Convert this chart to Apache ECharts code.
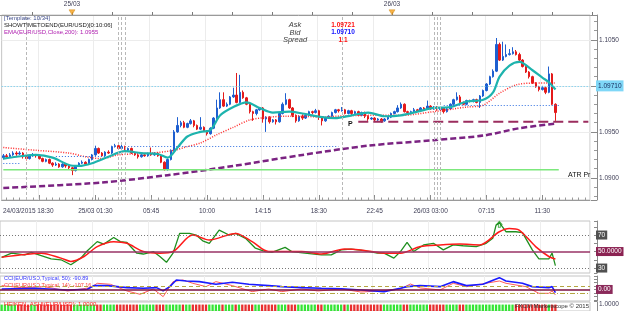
<!DOCTYPE html>
<html lang="en">
<head>
<meta charset="UTF-8">
<title>EUR/USD m15</title>
<script src="https://cdn.jsdelivr.net/npm/echarts@6.0.0/dist/echarts.min.js"></script>
<style>
    html, body { margin: 0; padding: 0; background: #fff; }
    #main { width: 625px; height: 311px; }
</style>
</head>
<body>
<div id="main"></div>
<script>
    // 15 minute slots from the left edge of the chart
    var startTime = Date.UTC(2015, 2, 24, 18, 30);
    var slotCount = 179;

    var labelIdx = [0, 28, 45, 62, 79, 96, 113, 130, 147, 164];
    var labelText = ['24/03/2015 18:30', '25/03 01:30', '05:45', '10:00', '14:15', '18:30', '22:45', '26/03 03:00', '07:15', '11:30'];
    var majorTickIdx = [11, 28, 45, 62, 79, 96, 113, 130, 147, 164];
    var sessionLines = [7, 35, 36, 37, 103, 131, 132, 133];

    // [open, close, low, high]
    var candles = [
        [1.0922, 1.0924, 1.0920, 1.0926], [1.0924, 1.0923, 1.0921, 1.0926], [1.0923, 1.0925, 1.0922, 1.0927], [1.0925, 1.0927, 1.0924, 1.0929],
        [1.0927, 1.0926, 1.0924, 1.0929], [1.0926, 1.0927, 1.0925, 1.0929], [1.0927, 1.0923, 1.0921, 1.0928], [1.0923, 1.0921, 1.0919, 1.0924],
        [1.0921, 1.0924, 1.0920, 1.0925], [1.0924, 1.0925, 1.0923, 1.0927], [1.0925, 1.0924, 1.0922, 1.0926], [1.0924, 1.0921, 1.0920, 1.0925],
        [1.0921, 1.0918, 1.0917, 1.0922], [1.0918, 1.0920, 1.0917, 1.0921], [1.0920, 1.0916, 1.0915, 1.0921], [1.0916, 1.0914, 1.0912, 1.0917],
        [1.0914, 1.0915, 1.0913, 1.0917], [1.0915, 1.0912, 1.0911, 1.0916], [1.0912, 1.0915, 1.0911, 1.0916], [1.0915, 1.0913, 1.0911, 1.0916],
        [1.0913, 1.0911, 1.0909, 1.0914], [1.0911, 1.0908, 1.0903, 1.0912], [1.0908, 1.0913, 1.0907, 1.0914], [1.0913, 1.0916, 1.0912, 1.0917],
        [1.0916, 1.0917, 1.0915, 1.0919], [1.0917, 1.0915, 1.0913, 1.0918], [1.0915, 1.0920, 1.0914, 1.0921], [1.0920, 1.0925, 1.0919, 1.0926],
        [1.0925, 1.0932, 1.0924, 1.0935], [1.0932, 1.0927, 1.0926, 1.0933], [1.0927, 1.0924, 1.0923, 1.0928], [1.0924, 1.0928, 1.0923, 1.0929],
        [1.0928, 1.0927, 1.0926, 1.0930], [1.0927, 1.0934, 1.0926, 1.0935], [1.0934, 1.0935, 1.0933, 1.0937], [1.0935, 1.0932, 1.0931, 1.0937],
        [1.0932, 1.0934, 1.0931, 1.0936], [1.0934, 1.0930, 1.0929, 1.0935], [1.0930, 1.0932, 1.0929, 1.0933], [1.0932, 1.0927, 1.0926, 1.0933],
        [1.0927, 1.0925, 1.0924, 1.0928], [1.0925, 1.0923, 1.0921, 1.0926], [1.0923, 1.0925, 1.0922, 1.0926], [1.0925, 1.0924, 1.0923, 1.0926],
        [1.0924, 1.0926, 1.0923, 1.0927], [1.0926, 1.0925, 1.0924, 1.0933], [1.0925, 1.0927, 1.0924, 1.0928], [1.0927, 1.0924, 1.0923, 1.0928],
        [1.0924, 1.0917, 1.0916, 1.0925], [1.0917, 1.0909, 1.0908, 1.0918], [1.0909, 1.0920, 1.0908, 1.0921], [1.0920, 1.0930, 1.0919, 1.0931],
        [1.0930, 1.0950, 1.0929, 1.0952], [1.0950, 1.0957, 1.0949, 1.0966], [1.0957, 1.0960, 1.0955, 1.0962], [1.0960, 1.0955, 1.0954, 1.0962],
        [1.0955, 1.0959, 1.0954, 1.0960], [1.0959, 1.0962, 1.0958, 1.0964], [1.0962, 1.0957, 1.0955, 1.0963], [1.0957, 1.0953, 1.0952, 1.0958],
        [1.0953, 1.0955, 1.0952, 1.0966], [1.0955, 1.0951, 1.0950, 1.0956], [1.0951, 1.0948, 1.0946, 1.0952], [1.0948, 1.0954, 1.0947, 1.0955],
        [1.0954, 1.0965, 1.0953, 1.0966], [1.0965, 1.0976, 1.0964, 1.0985], [1.0976, 1.0985, 1.0975, 1.0993], [1.0985, 1.0978, 1.0977, 1.0993],
        [1.0978, 1.0980, 1.0977, 1.0982], [1.0980, 1.0988, 1.0979, 1.0989], [1.0988, 1.0990, 1.0987, 1.0998], [1.0990, 1.0982, 1.0981, 1.1014],
        [1.0982, 1.0993, 1.0981, 1.1012], [1.0993, 1.0987, 1.0986, 1.0995], [1.0987, 1.0980, 1.0979, 1.0988], [1.0980, 1.0972, 1.0970, 1.0981],
        [1.0972, 1.0970, 1.0962, 1.0973], [1.0970, 1.0974, 1.0968, 1.0975], [1.0974, 1.0976, 1.0973, 1.0977], [1.0976, 1.0964, 1.0960, 1.0977],
        [1.0964, 1.0966, 1.0950, 1.0967], [1.0966, 1.0961, 1.0959, 1.0967], [1.0961, 1.0963, 1.0960, 1.0964], [1.0963, 1.0961, 1.0958, 1.0964],
        [1.0961, 1.0970, 1.0960, 1.0971], [1.0970, 1.0980, 1.0969, 1.0982], [1.0980, 1.0985, 1.0979, 1.0992], [1.0985, 1.0976, 1.0975, 1.0986],
        [1.0976, 1.0968, 1.0966, 1.0977], [1.0968, 1.0962, 1.0960, 1.0969], [1.0962, 1.0967, 1.0961, 1.0968], [1.0967, 1.0965, 1.0963, 1.0969],
        [1.0965, 1.0968, 1.0964, 1.0969], [1.0968, 1.0972, 1.0967, 1.0973], [1.0972, 1.0971, 1.0969, 1.0973], [1.0971, 1.0973, 1.0970, 1.0975],
        [1.0973, 1.0966, 1.0963, 1.0974], [1.0966, 1.0962, 1.0957, 1.0967], [1.0962, 1.0965, 1.0961, 1.0966], [1.0965, 1.0967, 1.0964, 1.0968],
        [1.0967, 1.0971, 1.0966, 1.0972], [1.0971, 1.0974, 1.0970, 1.0975], [1.0974, 1.0973, 1.0971, 1.0975], [1.0973, 1.0974, 1.0972, 1.0977],
        [1.0974, 1.0970, 1.0969, 1.0975], [1.0970, 1.0973, 1.0969, 1.0974], [1.0973, 1.0970, 1.0968, 1.0974], [1.0970, 1.0972, 1.0969, 1.0973],
        [1.0972, 1.0968, 1.0967, 1.0973], [1.0968, 1.0971, 1.0967, 1.0972], [1.0971, 1.0967, 1.0965, 1.0972], [1.0967, 1.0964, 1.0962, 1.0968],
        [1.0964, 1.0965, 1.0963, 1.0966], [1.0965, 1.0963, 1.0961, 1.0966], [1.0963, 1.0964, 1.0962, 1.0965], [1.0964, 1.0962, 1.0960, 1.0965],
        [1.0962, 1.0964, 1.0961, 1.0965], [1.0964, 1.0966, 1.0963, 1.0967], [1.0966, 1.0970, 1.0965, 1.0971], [1.0970, 1.0972, 1.0969, 1.0973],
        [1.0972, 1.0976, 1.0971, 1.0979], [1.0976, 1.0980, 1.0975, 1.0982], [1.0980, 1.0972, 1.0971, 1.0981], [1.0972, 1.0971, 1.0969, 1.0973],
        [1.0971, 1.0972, 1.0970, 1.0973], [1.0972, 1.0974, 1.0971, 1.0976], [1.0974, 1.0973, 1.0972, 1.0975], [1.0973, 1.0976, 1.0972, 1.0977],
        [1.0976, 1.0975, 1.0974, 1.0977], [1.0975, 1.0978, 1.0974, 1.0984], [1.0978, 1.0975, 1.0974, 1.0979], [1.0975, 1.0977, 1.0974, 1.0978],
        [1.0977, 1.0974, 1.0973, 1.0978], [1.0974, 1.0976, 1.0973, 1.0977], [1.0976, 1.0972, 1.0970, 1.0977], [1.0972, 1.0975, 1.0971, 1.0976],
        [1.0975, 1.0980, 1.0974, 1.0981], [1.0980, 1.0985, 1.0979, 1.0986], [1.0985, 1.0988, 1.0984, 1.0993], [1.0988, 1.0982, 1.0981, 1.0990],
        [1.0982, 1.0980, 1.0979, 1.0983], [1.0980, 1.0984, 1.0979, 1.0985], [1.0984, 1.0983, 1.0982, 1.0985], [1.0983, 1.0985, 1.0982, 1.0986],
        [1.0985, 1.0982, 1.0981, 1.0986], [1.0982, 1.0989, 1.0976, 1.0990], [1.0989, 1.0995, 1.0988, 1.0996], [1.0995, 1.1002, 1.0994, 1.1003],
        [1.1002, 1.1010, 1.1001, 1.1011], [1.1010, 1.1016, 1.1009, 1.1018], [1.1016, 1.1045, 1.1015, 1.1052], [1.1045, 1.1028, 1.1027, 1.1047],
        [1.1028, 1.1032, 1.1027, 1.1048], [1.1032, 1.1034, 1.1031, 1.1045], [1.1034, 1.1035, 1.1033, 1.1040], [1.1035, 1.1037, 1.1034, 1.1042],
        [1.1037, 1.1034, 1.1033, 1.1039], [1.1034, 1.1028, 1.1027, 1.1036], [1.1028, 1.1021, 1.1020, 1.1029], [1.1021, 1.1015, 1.1014, 1.1022],
        [1.1015, 1.1010, 1.1008, 1.1016], [1.1010, 1.1003, 1.1002, 1.1011], [1.1003, 1.0999, 1.0998, 1.1004], [1.0999, 1.0996, 1.0994, 1.1000],
        [1.0996, 1.0998, 1.0995, 1.1000], [1.0998, 1.0993, 1.0991, 1.0999], [1.0993, 1.1013, 1.0992, 1.1021], [1.1013, 1.0980, 1.0979, 1.1014],
        [1.0980, 1.0971, 1.0962, 1.0981]
    ];

    // overlays, [slot, value]
    var emaFast = [[0, 1.0921], [4, 1.0923], [10, 1.0925], [15, 1.0922], [20, 1.0914], [23, 1.0913], [27, 1.0916], [32, 1.0923],
        [37, 1.0929], [42, 1.0927], [47, 1.0926], [50, 1.0922], [53, 1.0933], [56, 1.0945], [60, 1.0950], [63, 1.0952],
        [66, 1.0968], [70, 1.0977], [74, 1.0982], [78, 1.0976], [82, 1.0971], [87, 1.0972], [91, 1.0970], [97, 1.0966],
        [101, 1.0965], [106, 1.0968], [111, 1.0971], [116, 1.0967], [121, 1.0968], [126, 1.0972], [131, 1.0976], [136, 1.0977],
        [141, 1.0983], [146, 1.0985], [149, 1.0993], [151, 1.1010], [154, 1.1022], [157, 1.1026], [161, 1.1017], [164, 1.1009],
        [166, 1.1004], [168, 1.0996]];
    var emaSlow = [[0, 1.0933], [10, 1.0930], [20, 1.0927], [25, 1.0923], [30, 1.0921], [35, 1.0925], [45, 1.0927], [52, 1.0930],
        [56, 1.0934], [60, 1.0938], [65, 1.0947], [70, 1.0955], [75, 1.0963], [81, 1.0966], [86, 1.0967], [91, 1.0967],
        [97, 1.0966], [101, 1.0967], [111, 1.0968], [121, 1.0968], [131, 1.0972], [141, 1.0977], [146, 1.0979], [151, 1.0992],
        [156, 1.1001], [161, 1.1003], [168, 1.1003]];
    var ema200 = [[0, 1.0889], [30, 1.0895], [50, 1.0903], [70, 1.0913], [91, 1.0925], [111, 1.0935], [131, 1.0941],
        [146, 1.0946], [157, 1.0954], [168, 1.0959]];

    var atrLine = [[0, 1.0909], [169, 1.0909]];
    var pivotLine = [[108, 1.0961], [178, 1.0961]];
    var bidPrice = 1.0971;
    // [from slot, to slot, level]
    var blueLevels = [[0, 5, 1.0916], [16, 31, 1.0924], [38, 102, 1.0934], [134, 169, 1.0979]];

    var rsiMain = [[0, 43], [3, 48], [7, 46], [9, 49], [12, 45], [15, 41], [18, 40], [21, 34], [24, 42], [26, 51], [29, 62],
        [31, 59], [34, 67], [36, 62], [38, 61], [41, 48], [43, 47], [46, 50], [48, 44], [50, 37], [52, 48], [54, 72], [57, 72],
        [59, 70], [61, 63], [63, 60], [66, 76], [69, 70], [71, 72], [74, 66], [77, 54], [80, 50], [82, 49], [86, 55], [88, 50],
        [92, 48], [97, 46], [100, 46], [103, 52], [106, 53], [110, 51], [114, 48], [116, 48], [119, 42], [121, 50], [123, 61],
        [125, 50], [128, 58], [131, 60], [134, 52], [137, 58], [140, 57], [144, 56], [147, 60], [149, 66], [150, 82], [151, 85],
        [153, 74], [156, 74], [158, 73], [161, 52], [163, 41], [166, 41], [167, 48], [168, 33]];
    var rsiSignal = [[0, 43], [6, 46], [12, 48], [18, 42], [21, 38], [25, 44], [29, 56], [34, 62], [38, 60], [43, 50], [48, 48],
        [52, 50], [58, 70], [63, 64], [71, 72], [76, 62], [81, 50], [91, 50], [97, 47], [104, 53], [109, 52], [116, 48], [121, 48],
        [127, 56], [133, 58], [139, 59], [145, 58], [151, 74], [154, 78], [157, 76], [162, 56], [166, 44], [168, 41]];
    var rsiLevels = [70, 50, 30];
    var signalArrow = [[151, 83]];

    var cci50 = [[0, 14], [10, 34], [20, -14], [26, 5], [28, 110], [32, 110], [38, 52], [43, 34], [47, 52], [49, -40], [51, 81],
        [53, 271], [56, 243], [60, 224], [65, 148], [70, 205], [75, 148], [81, 110], [85, 81], [91, 52], [97, 34], [103, 20],
        [109, -14], [116, -62], [121, 34], [123, 81], [127, 110], [133, 81], [137, 224], [141, 110], [146, 148], [151, 338],
        [153, 243], [158, 176], [161, 81], [166, 52], [167, 81], [168, -91]];
    var cci14 = [[0, 110], [6, 52], [13, 81], [20, -43], [27, 52], [29, 176], [33, 148], [38, -43], [42, -138], [46, 14],
        [49, -205], [50, -62], [52, 224], [55, 271], [58, 176], [62, 81], [65, 224], [70, 110], [76, -62], [81, 14], [85, -62],
        [91, 14], [96, -43], [103, 14], [109, -72], [115, -43], [121, 14], [124, 157], [127, 43], [133, -14], [137, 176],
        [141, 81], [151, 243], [153, 176], [159, 81], [163, -110], [166, -110], [167, -43], [168, -157]];

    // heiken ashi direction per bar, 1 = up (green), 0 = down (red)
    var haDir = [
        1, 1, 1, 1, 1, 0, 0, 0, 0, 1,  1, 0, 0, 0, 0, 0, 0, 0, 0, 0,
        0, 0, 1, 1, 1, 1, 1, 1, 1, 0,  0, 1, 1, 1, 1, 0, 0, 0, 0, 0,
        0, 0, 1, 1, 1, 1, 1, 0, 0, 0,  1, 1, 1, 1, 1, 0, 1, 1, 0, 0,
        0, 0, 0, 1, 1, 1, 1, 0, 1, 1,  1, 0, 1, 0, 0, 0, 0, 1, 1, 0,
        0, 0, 0, 0, 1, 1, 1, 0, 0, 0,  1, 1, 1, 1, 1, 1, 0, 0, 1, 1,
        1, 1, 1, 1, 0, 1, 0, 0, 0, 0,  0, 0, 0, 0, 0, 0, 1, 1, 1, 1,
        1, 1, 0, 0, 1, 1, 1, 1, 1, 1,  0, 0, 0, 0, 0, 1, 1, 1, 1, 0,
        0, 1, 1, 1, 1, 1, 1, 1, 1, 1,  1, 1, 1, 1, 1, 1, 0, 0, 0, 0,
        0, 0, 0, 0, 0, 0, 1, 0, 0
    ];

    // top ruler: tick numbers that carry a day mark
    var rulerMarks = [1, 9];
    var rulerText = ['25/03', '26/03'];

    function pad(n) { return (n < 10 ? '0' : '') + n; }
    var times = [];
    for (var i = 0; i < slotCount; i++) {
        var d = new Date(startTime + i * 15 * 60000);
        times.push(pad(d.getUTCDate()) + '/' + pad(d.getUTCMonth() + 1) + ' ' + pad(d.getUTCHours()) + ':' + pad(d.getUTCMinutes()));
    }
    function inList(list) { return function (idx) { return list.indexOf(idx) >= 0; }; }

    var FONT = '"Liberation Sans", Arial, sans-serif';
    var AXIS_TXT = '#404058';

    function note(x, y, text, color, font, align, z) {
        return {
            type: 'text', x: x, y: y, silent: true, z: z == null ? 100 : z,
            style: { text: text, fill: color, font: font + ' ' + FONT, align: align || 'left', verticalAlign: 'middle' }
        };
    }

    function panelX(grid) {
        return {
            type: 'category', gridIndex: grid, data: times, boundaryGap: true,
            axisLine: { show: false }, axisTick: { show: false }, axisLabel: { show: false },
            splitLine: { show: grid !== 3, interval: inList(majorTickIdx), lineStyle: { color: '#eeeeee' } }
        };
    }
    function panelY(grid, min, max) {
        return {
            type: 'value', gridIndex: grid, position: 'right', offset: 7, min: min, max: max,
            axisLine: { show: true, lineStyle: { color: '#8a8a8a' } },
            axisTick: { show: true, inside: true, length: 3, lineStyle: { color: '#8a8a8a' } },
            axisLabel: { show: false }, splitLine: { show: false }
        };
    }
    function levelLabel(text, bg) {
        return { show: true, position: 'end', distance: 6, formatter: text, backgroundColor: bg, color: '#ffffff',
            fontSize: 6.5, fontFamily: FONT, padding: [1, 2] };
    }

    var chart = echarts.init(document.getElementById('main'));

    var mainMarks = sessionLines.map(function (s) { return { xAxis: s }; })
        .concat(blueLevels.map(function (b) {
            return [{ coord: [b[0], b[2]], lineStyle: { type: [1, 2], color: '#2f6fe0', width: 1.2 } }, { coord: [b[1], b[2]] }];
        }))
        .concat([{
            yAxis: bidPrice,
            lineStyle: { type: [1, 2], color: '#5cc8f0', width: 1 },
            label: { show: true, position: 'end', distance: 6, formatter: bidPrice.toFixed(5), backgroundColor: '#7fd7f7',
                color: '#1a3060', fontSize: 6.5, fontFamily: FONT, padding: [2, 2] }
        }]);

    var option = {
        animation: false,
        backgroundColor: '#ffffff',
        textStyle: { fontFamily: FONT },
        grid: [
            { left: 0, top: 15, width: 590, height: 185, show: true, borderColor: '#c4c4c4', borderWidth: 1 },
            { left: 0, top: 221, width: 590, height: 52, show: true, borderColor: '#c4c4c4', borderWidth: 1 },
            { left: 0, top: 276, width: 590, height: 25, show: true, borderColor: '#c4c4c4', borderWidth: 1 },
            { left: 0, top: 302, width: 590, height: 16, show: true, borderColor: '#c4c4c4', borderWidth: 1 },
            { left: 0, top: 9, width: 597, height: 6 }
        ],
        xAxis: [
            {
                type: 'category', gridIndex: 0, data: times, boundaryGap: true,
                axisLine: { show: true, lineStyle: { color: '#9a9a9a' } },
                axisTick: { show: true, inside: true, length: 5, alignWithLabel: true, interval: inList(majorTickIdx),
                    lineStyle: { color: '#8a8a8a' } },
                axisLabel: {
                    interval: inList(labelIdx), fontSize: 6.5, color: AXIS_TXT, margin: 8,
                    formatter: function (v, idx) {
                        var k = labelIdx.indexOf(idx);
                        if (k < 0) return '';
                        return idx === 0 ? '{first|' + labelText[k] + '}' : labelText[k];
                    },
                    rich: { first: { padding: [0, 0, 0, 50], fontSize: 6.5, color: AXIS_TXT, fontFamily: FONT } }
                },
                splitLine: { show: true, interval: inList(majorTickIdx), lineStyle: { color: '#ececec' } }
            },
            {
                type: 'category', gridIndex: 0, data: times, boundaryGap: true, position: 'bottom',
                axisLine: { show: false },
                axisTick: { show: true, inside: true, length: 2.5, alignWithLabel: true,
                    interval: function (idx) { return idx % 2 === 1; }, lineStyle: { color: '#9a9a9a' } },
                axisLabel: { show: false }, splitLine: { show: false }
            },
            panelX(1), panelX(2), panelX(3),
            {
                type: 'value', gridIndex: 4, position: 'top', min: -0.8, max: 14.125, splitNumber: 15,
                axisLine: { show: true, lineStyle: { color: '#9a9a9a' } },
                axisTick: { show: true, length: 3, lineStyle: { color: '#7a7a7a' } },
                axisLabel: { fontSize: 6.5, color: AXIS_TXT, margin: 1, showMinLabel: false, showMaxLabel: false,
                    formatter: function (v) { var k = rulerMarks.indexOf(v); return k < 0 ? '' : rulerText[k]; } },
                splitLine: { show: false }
            }
        ],
        yAxis: [
            {
                type: 'value', gridIndex: 0, position: 'right', offset: 7, min: 1.0876, max: 1.1077,
                axisLine: { show: true, lineStyle: { color: '#8a8a8a' } },
                axisTick: { show: true, inside: true, length: 6, lineStyle: { color: '#8a8a8a' } },
                minorTick: { show: true, splitNumber: 5, length: 3, lineStyle: { color: '#9a9a9a' } },
                axisLabel: { fontSize: 6.5, color: AXIS_TXT, margin: 2, showMinLabel: false, showMaxLabel: false,
                    formatter: function (v) { return v.toFixed(4); } },
                splitLine: { show: true, lineStyle: { color: '#ececec' } }
            },
            panelY(1, 24, 87),
            panelY(2, -330, 385),
            {
                type: 'value', gridIndex: 3, position: 'right', offset: 7, min: 0, max: 1.4,
                axisLine: { show: true, lineStyle: { color: '#8a8a8a' } },
                axisTick: { show: false },
                axisLabel: { fontSize: 6.5, color: AXIS_TXT, margin: 2, showMinLabel: false, showMaxLabel: false,
                    customValues: [1], formatter: function (v) { return v === 1 ? '1.0000' : ''; } },
                splitLine: { show: false }
            },
            { type: 'value', gridIndex: 4, min: 0, max: 1, show: false }
        ],
        series: [
            {
                type: 'candlestick', xAxisIndex: 0, yAxisIndex: 0, data: candles, barWidth: 2,
                itemStyle: { color: '#1e5fd0', color0: '#e41a1a', borderColor: '#1e5fd0', borderColor0: '#e41a1a', borderWidth: 1 },
                markLine: {
                    silent: true, symbol: ['none', 'none'], animation: false,
                    label: { show: false },
                    lineStyle: { type: [3, 2], color: '#b8b8b8', width: 1 },
                    data: mainMarks
                }
            },
            { type: 'line', xAxisIndex: 0, yAxisIndex: 0, data: emaSlow, symbol: 'none', silent: true, smooth: 0.3,
                lineStyle: { color: '#ff2a2a', width: 1.5, type: [1, 1.5] } },
            { type: 'line', xAxisIndex: 0, yAxisIndex: 0, data: ema200, symbol: 'none', silent: true, smooth: 0.3,
                lineStyle: { color: '#7b2382', width: 2.5, type: [6, 3] } },
            { type: 'line', xAxisIndex: 0, yAxisIndex: 0, data: atrLine, symbol: 'none', silent: true,
                lineStyle: { color: '#7ce87c', width: 1.5 } },
            { type: 'line', xAxisIndex: 0, yAxisIndex: 0, data: pivotLine, symbol: 'none', silent: true,
                lineStyle: { color: '#9b2d5e', width: 2, type: [10, 5] } },
            { type: 'line', xAxisIndex: 0, yAxisIndex: 0, data: emaFast, symbol: 'none', silent: true, smooth: 0.3,
                lineStyle: { color: '#1db3ad', width: 2.2 } },

            { type: 'line', xAxisIndex: 2, yAxisIndex: 1, data: rsiMain, symbol: 'none', silent: true,
                lineStyle: { color: '#1f8f1f', width: 1.3 } },
            {
                type: 'line', xAxisIndex: 2, yAxisIndex: 1, data: rsiSignal, symbol: 'none', silent: true, smooth: 0.3,
                lineStyle: { color: '#ff1a1a', width: 1.5 },
                markLine: {
                    silent: true, symbol: ['none', 'none'], animation: false,
                    data: [
                        { yAxis: rsiLevels[0], lineStyle: { type: [1, 2], color: '#777777', width: 1 }, label: levelLabel(String(rsiLevels[0]), '#505050') },
                        { yAxis: rsiLevels[1], lineStyle: { type: 'solid', color: '#993366', width: 1.5 }, label: levelLabel(rsiLevels[1].toFixed(4), '#8b2252') },
                        { yAxis: rsiLevels[2], lineStyle: { type: [1, 2], color: '#777777', width: 1 }, label: levelLabel(String(rsiLevels[2]), '#505050') }
                    ]
                }
            },
            { type: 'scatter', xAxisIndex: 2, yAxisIndex: 1, data: signalArrow, silent: true,
                symbol: 'path://M5,0 L10,5 L7,5 L7,10 L3,10 L3,5 L0,5 Z', symbolSize: [5, 6],
                itemStyle: { color: '#ffffff', borderColor: '#1a9a1a', borderWidth: 1 } },

            {
                type: 'line', xAxisIndex: 3, yAxisIndex: 2, data: cci14, symbol: 'none', silent: true,
                lineStyle: { color: '#ff5a5a', width: 1 },
                markLine: {
                    silent: true, symbol: ['none', 'none'], animation: false,
                    data: [
                        { yAxis: 100, lineStyle: { type: [4, 3], color: '#b5a642', width: 1 }, label: { show: false } },
                        { yAxis: -100, lineStyle: { type: [5, 2, 1, 2], color: '#b5a642', width: 1 }, label: { show: false } },
                        { yAxis: 0, lineStyle: { type: 'solid', color: '#7a1040', width: 1.5 }, label: levelLabel('0.00', '#8b2a5a') }
                    ]
                }
            },
            { type: 'line', xAxisIndex: 3, yAxisIndex: 2, data: cci50, symbol: 'none', silent: true,
                lineStyle: { color: '#1a1aff', width: 1.6 } },

            {
                type: 'bar', xAxisIndex: 4, yAxisIndex: 3, barWidth: 2.3, silent: true,
                data: haDir.map(function (up) { return { value: 1, itemStyle: { color: up ? '#35e535' : '#e83030' } }; })
            },

            { type: 'scatter', xAxisIndex: 5, yAxisIndex: 4, silent: true,
                data: rulerMarks.map(function (m) { return [m, 0.45]; }),
                symbol: 'triangle', symbolRotate: 180, symbolSize: [6, 5],
                itemStyle: { color: '#f5a01a', borderColor: '#c77a00', borderWidth: 0.5 } }
        ],
        graphic: [
            note(4, 18, '[Template: 10/34]', '#3c4a8a', '6px'),
            note(4, 25, 'SHOWTIMETOEND(EUR/USD)[0:10:06]', '#202020', '6px'),
            note(4, 32.5, 'EMA(EUR/USD,Close,200): 1.0955', '#b020b0', '6px'),
            note(295, 25, 'Ask', '#404040', 'italic 7.5px', 'center'),
            note(295, 32.5, 'Bid', '#404040', 'italic 7.5px', 'center'),
            note(295, 40, 'Spread', '#404040', 'italic 7.5px', 'center'),
            note(343, 25, '1.09721', '#ff1010', 'bold 6.5px', 'center'),
            note(343, 32.5, '1.09710', '#1010ff', 'bold 6.5px', 'center'),
            note(343, 40.5, '1.1', '#ff1010', 'bold 6.5px', 'center'),
            note(348, 124, 'P', '#111111', 'bold 7px'),
            note(568, 175, 'ATR Pr', '#111111', '7px'),
            note(4, 278.5, 'CCI(EUR/USD,Typical, 50): -90.89', '#3a3aff', '5.5px', 'left', 0),
            note(4, 285.5, 'CCI(EUR/USD,Typical, 14): -107.16', '#ff3a3a', '5.5px', 'left', 0),
            note(4, 304, 'HEIKEN_ASHI(EUR/USD): 1.0000', '#ff2020', '6px'),
            note(589, 306.5, 'FXCM Marketscope \u00a9 2015', '#333333', '6px', 'right')
        ]
    };

    chart.setOption(option);
</script>
</body>
</html>
